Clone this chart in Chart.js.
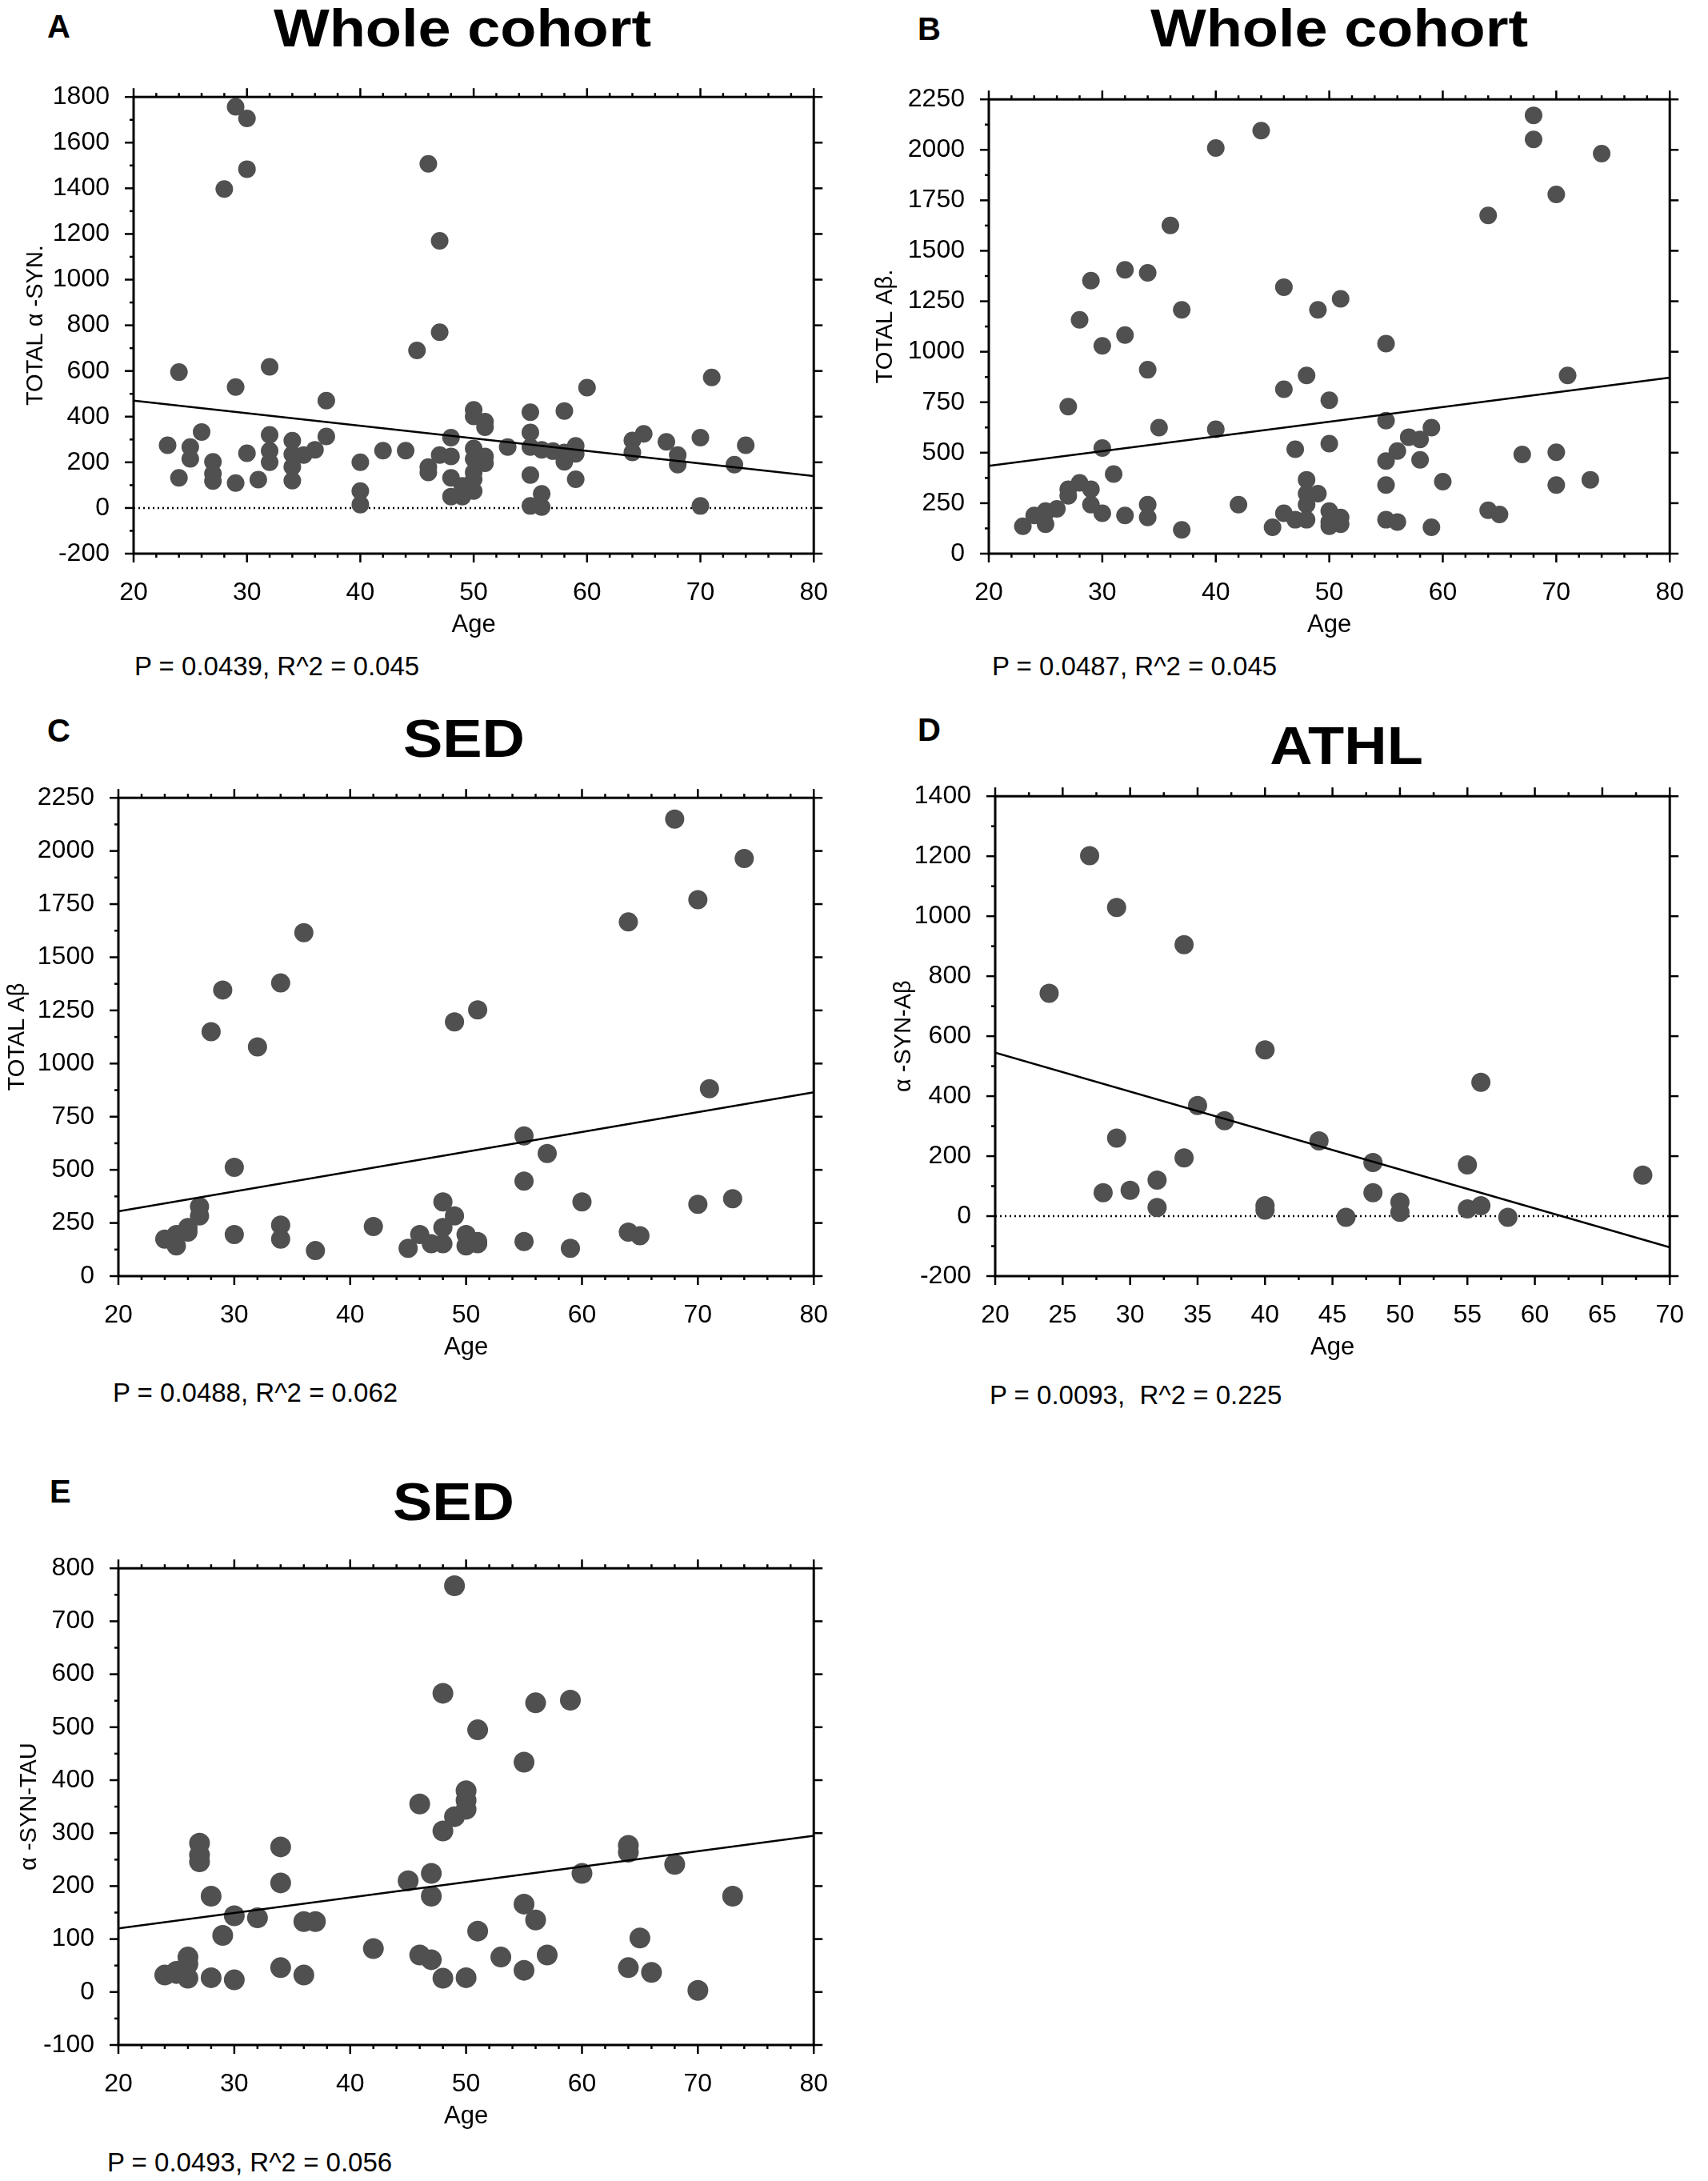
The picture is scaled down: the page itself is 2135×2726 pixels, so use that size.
<!DOCTYPE html>
<html>
<head>
<meta charset="utf-8">
<script src="https://cdn.jsdelivr.net/npm/chart.js@4.4.1/dist/chart.umd.min.js"></script>
<style>
html, body { margin: 0; padding: 0; background: #fff; }
#page { position: relative; width: 2135px; height: 2726px; overflow: hidden; background: #fff;
        font-family: 'Liberation Sans', Arial, sans-serif; color: #000; }
#page canvas { position: absolute; }
.t { position: absolute; white-space: pre; line-height: 1; }
.title { font-weight: bold; font-size: 66px; transform: translate(-50%, -50%) scaleX(1.12); }
.letter { font-weight: bold; font-size: 40px; transform: translateY(-50%); }
.stat { font-size: 33px; transform: translateY(-50%); }
</style>
</head>
<body>
<div id="page"></div>
<script>
// A: whole cohort, total alpha-synuclein vs age
var ageA = [23,24,24,25,25,26,27,27,27,28,29,29,29,30,30,30,31,32,32,32,32,34,34,34,34,35,36,37,37,40,40,40,42,44,45,46,46,46,47,47,47,48,48,48,48,49,49,50,50,50,50,50,50,50,51,51,51,51,53,55,55,55,55,55,56,56,56,57,58,58,58,59,59,59,60,64,64,65,67,68,68,70,70,71,73,74];
var synA = [275,132,595,267,215,333,202,150,118,1397,109,530,1757,240,1706,1484,124,320,250,200,618,295,235,180,120,232,255,313,470,200,74,15,251,251,690,179,156,1507,232,1170,770,226,308,132,50,97,50,126,74,430,401,261,214,156,378,354,196,226,267,419,331,267,144,9,62,4,255,249,243,425,202,272,237,126,527,296,243,325,290,232,190,308,9,572,190,275];
var fitA = [470, 140];

// B: whole cohort, total A-beta vs age
var ageB = [23,24,25,25,25,26,27,27,27,28,28,29,29,29,30,30,30,31,32,32,32,34,34,34,34,35,36,37,37,40,40,42,44,45,46,46,46,47,47,48,48,48,48,48,49,49,50,50,50,50,50,51,51,51,55,55,55,55,55,56,56,57,58,58,59,59,60,64,64,65,67,68,68,70,70,70,71,73,74];
var abB = [136,189,200,146,211,222,728,319,286,1158,351,1352,319,243,1029,523,200,394,1406,1083,189,1391,911,243,179,624,1626,1208,118,2009,616,243,2095,131,1320,814,200,517,168,883,366,297,243,168,1208,297,760,545,211,157,136,1262,146,179,1040,659,459,340,168,508,157,577,566,465,624,131,357,1675,215,194,491,2171,2052,1779,502,340,883,366,1981];
var fitB = [435, 872];

// C: SED, total A-beta vs age
var ageC = [24,25,25,26,26,27,27,28,29,30,30,32,34,34,34,36,37,42,45,46,47,48,48,48,49,49,50,50,51,51,51,55,55,55,57,59,60,64,64,65,68,70,70,71,73,74];
var abC = [174,142,196,207,229,327,283,1150,1346,512,196,1078,1379,240,174,1616,120,233,131,196,152,349,229,152,283,1196,196,142,163,1252,152,660,447,163,577,131,349,1666,207,190,2150,338,1771,882,364,1965];
var fitC = [305, 865];

// D: ATHL, alpha-syn / A-beta vs age
var ageD = [24,27,28,29,29,30,32,32,34,34,35,37,40,40,40,44,46,48,48,50,50,55,55,56,56,58,68];
var synAbD = [743,1202,78,1029,260,86,120,29,905,194,369,318,554,35,20,251,-4,179,78,47,13,171,24,446,35,-4,137];
var fitD = [545, -104];

// E: SED, alpha-syn / tau vs age
var ageE = [24,25,25,26,26,26,27,27,27,28,28,29,30,30,32,34,34,34,36,36,37,42,45,46,46,47,47,47,48,48,48,49,49,50,50,50,50,51,51,53,55,55,55,56,56,57,59,60,64,64,64,65,66,68,70,73];
var synTauE = [32,35,39,53,66,26,281,259,246,181,27,107,144,23,140,274,206,46,133,32,133,82,210,355,70,224,181,61,564,304,26,767,331,380,362,345,27,495,115,66,434,166,41,546,136,70,551,224,277,264,46,102,37,241,3,181];
var fitE = [120, 295];

var ageRange = [20, 80];
var ageRangeD = [20, 70];

var FONT = "'Liberation Sans', Arial, sans-serif";
var DOT = '#505050';

function onStep(v, step) {
  var q = v / step;
  return Math.abs(q - Math.round(q)) < 1e-6;
}

// frame box plus major/minor tick marks on all four sides
var frameTicks = {
  id: 'frameTicks',
  afterDatasetsDraw: function(chart, args, opts) {
    var ctx = chart.ctx, a = chart.chartArea;
    var x = chart.scales.x, y = chart.scales.y;
    function seg(x1, y1, x2, y2) {
      ctx.beginPath(); ctx.moveTo(x1, y1); ctx.lineTo(x2, y2); ctx.stroke();
    }
    ctx.save();
    ctx.strokeStyle = '#000';
    ctx.lineWidth = 2.5;
    x.ticks.forEach(function(t) {
      var px = x.getPixelForValue(t.value);
      var len = onStep(t.value, opts.xMajor) ? 11 : 5;
      seg(px, a.bottom, px, a.bottom + len);
      seg(px, a.top, px, a.top - len);
    });
    y.ticks.forEach(function(t) {
      var py = y.getPixelForValue(t.value);
      var major = onStep(t.value, opts.yMajor);
      seg(a.left, py, a.left - (major ? 11 : 5), py);
      if (major) seg(a.right, py, a.right + 11, py);
    });
    ctx.lineWidth = 3;
    ctx.strokeRect(a.left, a.top, a.right - a.left, a.bottom - a.top);
    ctx.restore();
  }
};

function toPoints(xs, ys) {
  return xs.map(function(v, i) { return {x: v, y: ys[i]}; });
}

var panels = [
  {letter: 'A', title: 'Whole cohort', stat: 'P = 0.0439, R^2 = 0.045', yTitle: 'TOTAL \u03b1 -SYN.',
   xs: ageA, ys: synA, fit: fitA, xr: ageRange, yMin: -200, yMax: 1800, xStep: 2, xMajor: 10, yStep: 100, yMajor: 200, zero: true, r: 11,
   box: [0, 72, 1065, 735], yw: 167, pr: 31, ytp: 28, titleAt: [578, 35], letterAt: [59, 33], statAt: [168, 832]},
  {letter: 'B', title: 'Whole cohort', stat: 'P = 0.0487, R^2 = 0.045', yTitle: 'TOTAL A\u03b2.',
   xs: ageB, ys: abB, fit: fitB, xr: ageRange, yMin: 0, yMax: 2250, xStep: 2, xMajor: 10, yStep: 125, yMajor: 250, zero: false, r: 11,
   box: [1065, 75, 1070, 732], yw: 171, pr: 32, ytp: 25, titleAt: [1674, 35], letterAt: [1147, 36], statAt: [1240, 832]},
  {letter: 'C', title: 'SED', stat: 'P = 0.0488, R^2 = 0.062', yTitle: 'TOTAL A\u03b2',
   xs: ageC, ys: abC, fit: fitC, xr: ageRange, yMin: 0, yMax: 2250, xStep: 2, xMajor: 10, yStep: 125, yMajor: 250, zero: false, r: 12,
   box: [0, 948, 1065, 762], yw: 148, pr: 30, ytp: 5, titleAt: [580, 923], letterAt: [59, 913], statAt: [141, 1740]},
  {letter: 'D', title: 'ATHL', stat: 'P = 0.0093,  R^2 = 0.225', yTitle: '\u03b1 -SYN-A\u03b2',
   xs: ageD, ys: synAbD, fit: fitD, xr: ageRangeD, yMin: -200, yMax: 1400, xStep: 2.5, xMajor: 5, yStep: 100, yMajor: 200, zero: true, r: 12,
   box: [1065, 946, 1070, 764], yw: 179, pr: 22, ytp: 48, titleAt: [1683, 932], letterAt: [1147, 912], statAt: [1237, 1743]},
  {letter: 'E', title: 'SED', stat: 'P = 0.0493, R^2 = 0.056', yTitle: '\u03b1 -SYN-TAU',
   xs: ageE, ys: synTauE, fit: fitE, xr: ageRange, yMin: -100, yMax: 800, xStep: 2, xMajor: 10, yStep: 50, yMajor: 100, zero: false, r: 13,
   box: [0, 1911, 1065, 760], yw: 148, pr: 20, ytp: 20, titleAt: [567, 1877], letterAt: [62, 1864], statAt: [134, 2702]}
];

var page = document.getElementById('page');

function addText(cls, text, xy) {
  var d = document.createElement('div');
  d.className = 't ' + cls;
  d.textContent = text;
  d.style.left = xy[0] + 'px';
  d.style.top = xy[1] + 'px';
  page.appendChild(d);
}

panels.forEach(function(p) {
  addText('letter', p.letter, p.letterAt);
  addText('title', p.title, p.titleAt);
  addText('stat', p.stat, p.statAt);

  var cv = document.createElement('canvas');
  cv.width = p.box[2];
  cv.height = p.box[3];
  cv.style.left = p.box[0] + 'px';
  cv.style.top = p.box[1] + 'px';
  cv.style.width = p.box[2] + 'px';
  cv.style.height = p.box[3] + 'px';
  page.appendChild(cv);

  var datasets = [
    {type: 'line', data: toPoints(p.xr, p.fit), borderColor: '#000', borderWidth: 2.5,
     pointRadius: 0, fill: false, order: 1}
  ];
  if (p.zero) {
    datasets.push({type: 'line', data: toPoints(p.xr, [0, 0]), borderColor: '#000', borderWidth: 2.5,
      borderDash: [2, 4], pointRadius: 0, fill: false, order: 3});
  }
  datasets.push({type: 'scatter', data: toPoints(p.xs, p.ys), backgroundColor: DOT,
    borderColor: DOT, borderWidth: 0, pointRadius: p.r, pointStyle: 'circle', order: 2});

  new Chart(cv, {
    type: 'scatter',
    data: {datasets: datasets},
    options: {
      responsive: false,
      animation: false,
      devicePixelRatio: 1,
      layout: {padding: {top: 40, right: p.pr, left: 0, bottom: 0}},
      plugins: {
        legend: {display: false},
        tooltip: {enabled: false},
        frameTicks: {xMajor: p.xMajor, yMajor: p.yMajor}
      },
      scales: {
        x: {
          type: 'linear', position: 'bottom', min: p.xr[0], max: p.xr[1],
          afterFit: function(s) { s.height = 115; },
          grid: {display: false, drawTicks: false},
          border: {display: false},
          ticks: {
            stepSize: p.xStep, autoSkip: false, maxRotation: 0, minRotation: 0,
            padding: 30, color: '#000', font: {family: FONT, size: 32},
            callback: function(v) { return onStep(v, p.xMajor) ? String(v) : ''; }
          },
          title: {display: true, text: 'Age', color: '#000', font: {family: FONT, size: 31},
                  padding: {top: 0, bottom: 7}}
        },
        y: {
          type: 'linear', position: 'left', min: p.yMin, max: p.yMax,
          afterFit: function(s) { s.width = p.yw; },
          grid: {display: false, drawTicks: false},
          border: {display: false},
          ticks: {
            stepSize: p.yStep, autoSkip: false, padding: 30, color: '#000',
            font: {family: FONT, size: 32},
            callback: function(v) { return onStep(v, p.yMajor) ? String(v) : ''; }
          },
          title: {display: true, text: p.yTitle, color: '#000', font: {family: FONT, size: 29},
                  padding: {top: p.ytp, bottom: 0}}
        }
      }
    },
    plugins: [frameTicks]
  });
});
</script>
</body>
</html>
